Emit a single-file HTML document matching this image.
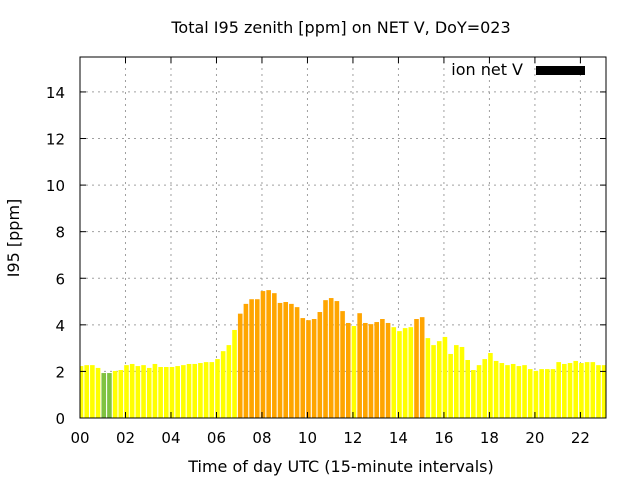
<!DOCTYPE html>
<html><head><meta charset="utf-8"><style>
body{margin:0;background:#fff}
svg{display:block;font-family:"DejaVu Sans","Liberation Sans",sans-serif}
</style></head><body>
<svg id="chart" width="640" height="480" viewBox="0 0 640 480">
<text x="341" y="33" font-size="16" text-anchor="middle">Total I95 zenith [ppm] on NET V, DoY=023</text>
<text x="341" y="472" font-size="16" text-anchor="middle">Time of day UTC (15-minute intervals)</text>
<text transform="translate(19,238) rotate(-90)" font-size="16" text-anchor="middle">I95 [ppm]</text>
<g id="grid"></g>
<g id="bars" clip-path="url(#clip)"></g>
<defs><clipPath id="clip"><rect x="80" y="57" width="526" height="361"/></clipPath></defs>
<g id="axes"></g>
<text x="523" y="75" font-size="16" text-anchor="end">ion net V</text>
<rect x="536" y="66" width="49" height="9" fill="#000"/>
</svg>
<script>
const values = [2.23,2.27,2.27,2.15,1.93,1.93,2.02,2.06,2.27,2.32,2.23,2.27,2.15,2.32,2.19,2.19,2.19,2.23,2.27,2.32,2.32,2.36,2.4,2.4,2.53,2.87,3.13,3.78,4.48,4.9,5.1,5.1,5.45,5.49,5.36,4.94,4.98,4.9,4.76,4.29,4.2,4.25,4.55,5.06,5.15,5.02,4.59,4.08,3.95,4.5,4.08,4.03,4.12,4.25,4.08,3.9,3.73,3.86,3.9,4.25,4.33,3.43,3.13,3.3,3.48,2.75,3.13,3.05,2.49,2.06,2.27,2.53,2.79,2.45,2.36,2.27,2.32,2.23,2.27,2.1,2.02,2.1,2.1,2.1,2.4,2.32,2.36,2.45,2.36,2.4,2.4,2.27,2.27];
const yTicks = [0,2,4,6,8,10,12,14];
const xTickLabels = ["00","02","04","06","08","10","12","14","16","18","20","22"];
const X0=80,X1=606,Y0=418,Y1=57,XMAX=92.5,YMAX=15.5;
const xs=v=>X0+v/XMAX*(X1-X0);
const ys=v=>Y0-v/YMAX*(Y0-Y1);
const NS="http://www.w3.org/2000/svg";
function mk(tag,attrs,parent){const e=document.createElementNS(NS,tag);for(const k in attrs)e.setAttribute(k,attrs[k]);parent.appendChild(e);return e;}
const grid=document.getElementById('grid'),bars=document.getElementById('bars'),axes=document.getElementById('axes');
yTicks.forEach(t=>{
  const y=ys(t);
  if(t>0){const g=mk('line',{x1:X0,x2:X1,y1:y,y2:y,stroke:'#a0a0a0','stroke-dasharray':'2,4'},grid);
  
  }
  const l=mk('line',{x1:X0,x2:X0+6,y1:y,y2:y,stroke:'#000'},axes);
  
  
  const r=mk('line',{x1:X1-6,x2:X1,y1:y,y2:y,stroke:'#000'},axes);
  
  
  const tx=mk('text',{x:X0-15,y:y+6,'font-size':15,'text-anchor':'end'},axes);
  tx.textContent=t;
  
  
});
xTickLabels.forEach((s,i)=>{
  const x=xs(i*8);
  if(i>0){const g=mk('line',{x1:x,x2:x,y1:Y0,y2:Y1,stroke:'#a0a0a0','stroke-dasharray':'2,4'},grid);
  
  }
  const l=mk('line',{x1:x,x2:x,y1:Y0,y2:Y0-6,stroke:'#000'},axes);
  
  
  const t2=mk('line',{x1:x,x2:x,y1:Y1,y2:Y1+6,stroke:'#000'},axes);
  
  
  const tx=mk('text',{x:x,y:Y0+25,'font-size':15,'text-anchor':'middle'},axes);
  tx.textContent=s;
  
  
});
values.forEach((v,i)=>{
  const c=v<2?'#7fc241':(v>=4?'#ffa500':'#ffff00');
  const cx=xs(i)+1;
  const b=mk('rect',{x:cx-2.3,y:ys(v),width:4.6,height:Y0-ys(v),fill:c},bars);
  
  
});
const br=mk('rect',{x:X0,y:Y1,width:X1-X0,height:Y0-Y1,fill:'none',stroke:'#000'},axes);


</script>
</body></html>
